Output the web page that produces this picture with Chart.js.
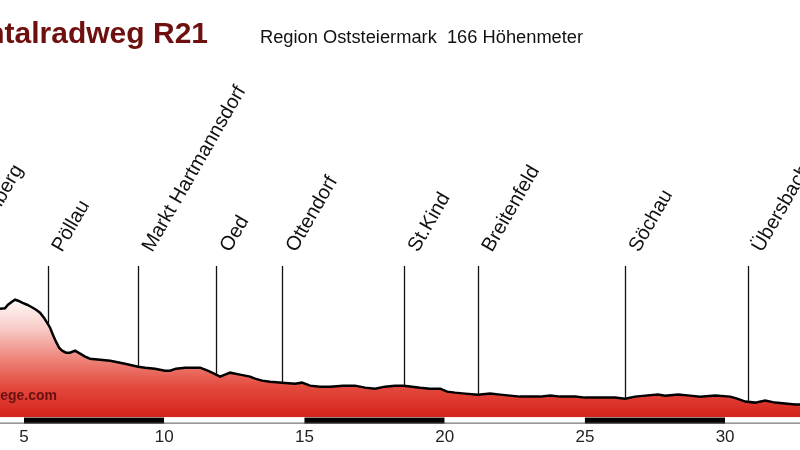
<!DOCTYPE html>
<html>
<head>
<meta charset="utf-8">
<script src="https://cdn.jsdelivr.net/npm/chart.js@4.4.1/dist/chart.umd.min.js"></script>
<style>
  html, body { margin: 0; padding: 0; background: #ffffff; }
  #wrap { width: 800px; height: 450px; overflow: hidden; }
</style>
</head>
<body>
<div id="wrap"><canvas id="c" width="800" height="450"></canvas></div>
<script>
// ---- data ----
const titleText = "Rittscheintalradweg R21";
const subtitleText = "Region Oststeiermark  166 Höhenmeter";
const watermarkText = "www.radwege.com";

const distKm = [4.14, 4.32, 4.43, 4.57, 4.68, 4.79, 4.93, 5.11, 5.25, 5.43, 5.57, 5.71, 5.82, 5.93,
  6.03, 6.14, 6.25, 6.36, 6.50, 6.64, 6.82, 7.00, 7.18, 7.35, 7.71, 8.07, 8.25, 8.60, 9.07, 9.32,
  9.67, 10.03, 10.21, 10.42, 10.74, 10.99, 11.28, 11.46, 11.63, 11.85, 11.99, 12.17, 12.35, 12.70,
  13.06, 13.24, 13.49, 13.77, 14.20, 14.66, 14.91, 15.20, 15.56, 15.91, 16.38, 16.80, 17.16, 17.52,
  17.87, 18.23, 18.55, 18.84, 19.12, 19.48, 19.84, 20.09, 20.37, 20.73, 21.19, 21.62, 21.98, 22.33,
  22.69, 23.05, 23.40, 23.76, 24.12, 24.65, 25.01, 25.54, 26.08, 26.43, 26.79, 27.15, 27.61, 27.86,
  28.32, 28.75, 29.11, 29.64, 30.18, 30.43, 30.72, 31.07, 31.43, 31.78, 32.14, 32.50, 32.70];
const elevM = [369, 369.5, 373, 376, 378, 377, 375, 373, 371, 368, 365, 360, 355, 350,
  343, 336, 330, 327, 325, 325, 327, 324, 321, 319, 318, 317, 316, 314, 311, 310,
  309, 307, 307, 309, 310, 310, 310, 308, 306, 303, 301, 303, 305, 303,
  301, 299, 297, 296, 295, 294, 295, 292, 291, 291, 292, 292, 290, 289,
  291, 292, 292, 291, 290, 289, 289, 286, 285, 284, 283, 284, 283, 282,
  281, 281, 281, 282, 281, 281, 280, 280, 280, 279, 281, 282, 283, 282,
  283, 282, 281, 282, 281, 279, 276, 275, 277, 275, 274, 273, 273];

const placeNames = ["Nestelberg", "Pöllau", "Markt Hartmannsdorf", "Oed", "Ottendorf", "St.Kind",
  "Breitenfeld", "Söchau", "Übersbach"];
const placeKm = [2.75, 5.86, 9.07, 11.85, 14.20, 18.55, 21.19, 26.43, 30.82];

const xTickKm = [5, 10, 15, 20, 25, 30];
const barSegmentKm = [0, 5, 10, 15, 20, 25, 30, 35];

const FONT = "'Liberation Sans', Arial, Helvetica, sans-serif";

function elevAt(km) {
  if (km <= distKm[0]) return elevM[0];
  for (let i = 1; i < distKm.length; i++) {
    if (km <= distKm[i]) {
      const t = (km - distKm[i - 1]) / (distKm[i] - distKm[i - 1]);
      return elevM[i - 1] + t * (elevM[i] - elevM[i - 1]);
    }
  }
  return elevM[elevM.length - 1];
}

const decor = {
  id: 'decor',
  afterDatasetsDraw(chart) {
    const { ctx, scales: { x, y }, chartArea } = chart;
    ctx.save();
    // place lines
    ctx.strokeStyle = '#111';
    ctx.lineWidth = 1.3;
    placeKm.forEach((k) => {
      const px = Math.round(x.getPixelForValue(k)) + 0.5;
      const py = y.getPixelForValue(elevAt(k));
      ctx.beginPath();
      ctx.moveTo(px, 266);
      ctx.lineTo(px, py);
      ctx.stroke();
    });
    // place labels
    ctx.fillStyle = '#111';
    ctx.font = '20px ' + FONT;
    ctx.textAlign = 'left';
    ctx.textBaseline = 'alphabetic';
    placeKm.forEach((k, i) => {
      const px = x.getPixelForValue(k) + 14;
      ctx.save();
      ctx.translate(px, 253);
      ctx.rotate(-60 * Math.PI / 180);
      ctx.fillText(placeNames[i], 0, 0);
      ctx.restore();
    });
    // bottom distance bar
    const top = chartArea.bottom, h = 6;
    for (let i = 0; i < barSegmentKm.length - 1; i++) {
      const x0 = x.getPixelForValue(barSegmentKm[i]);
      const x1 = x.getPixelForValue(barSegmentKm[i + 1]);
      ctx.fillStyle = (i % 2 === 1) ? '#000' : '#fff';
      ctx.fillRect(x0, top, x1 - x0, h);
    }
    ctx.fillStyle = '#555';
    ctx.fillRect(0, top + h - 1, chart.width, 1);
    // watermark
    ctx.fillStyle = 'rgba(90,12,12,0.9)';
    ctx.font = 'bold 14px ' + FONT;
    ctx.textAlign = 'right';
    ctx.fillText(watermarkText, 57, 400);
    // title
    ctx.fillStyle = '#6e1010';
    ctx.font = 'bold 30px ' + FONT;
    ctx.textAlign = 'right';
    ctx.fillText(titleText, 208, 43);
    ctx.fillStyle = '#111';
    ctx.font = '18.3px ' + FONT;
    ctx.textAlign = 'left';
    ctx.fillText(subtitleText, 260, 43);
    ctx.restore();
  }
};

const chart = new Chart(document.getElementById('c'), {
  type: 'line',
  data: {
    datasets: [{
      data: distKm.map((k, i) => ({ x: k, y: elevM[i] })),
      borderColor: '#000',
      borderWidth: 2.5,
      pointRadius: 0,
      tension: 0,
      fill: 'start',
      backgroundColor: (c) => {
        const ch = c.chart;
        const { ctx, chartArea, scales } = ch;
        if (!chartArea || !scales.y) return 'rgba(220,40,30,1)';
        const yTop = scales.y.getPixelForValue(380);
        const yBot = scales.y.getPixelForValue(260);
        const g = ctx.createLinearGradient(0, yTop, 0, yBot);
        g.addColorStop(0, 'rgb(255,252,252)');
        g.addColorStop(0.25, 'rgb(248,205,200)');
        g.addColorStop(0.5, 'rgb(238,135,125)');
        g.addColorStop(0.75, 'rgb(228,72,60)');
        g.addColorStop(1, 'rgb(212,34,26)');
        return g;
      }
    }]
  },
  options: {
    responsive: false,
    animation: false,
    layout: { padding: { top: 60, left: 0, right: 0, bottom: -8 } },
    plugins: { legend: { display: false }, tooltip: { enabled: false }, title: { display: false } },
    scales: {
      x: {
        type: 'linear',
        min: 4.144,
        max: 32.67,
        grid: { display: false, drawTicks: false },
        border: { display: false },
        ticks: {
          padding: 10,
          color: '#222',
          font: { size: 17, family: FONT },
          maxRotation: 0,
          autoSkip: false
        },
        afterBuildTicks: (s) => { s.ticks = xTickKm.map(v => ({ value: v })); }
      },
      y: {
        display: false,
        min: 260,
        max: 618
      }
    }
  },
  plugins: [decor]
});
</script>
</body>
</html>
